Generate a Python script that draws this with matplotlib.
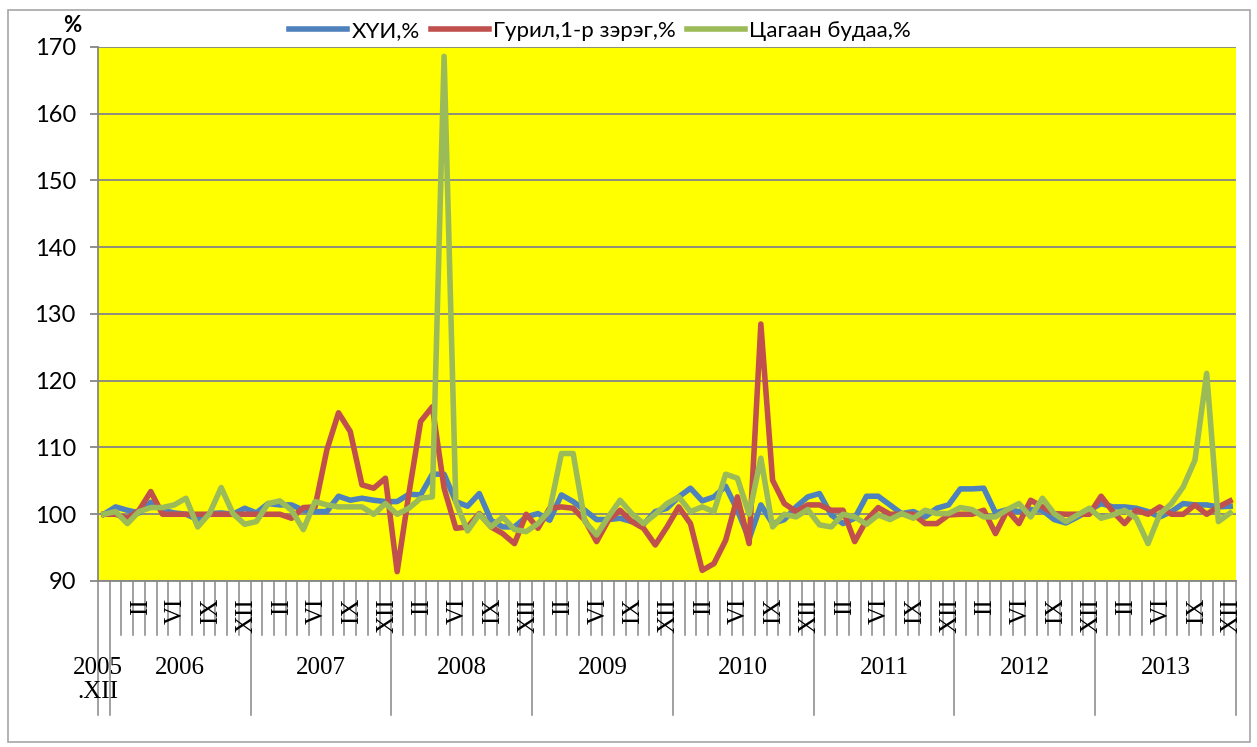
import matplotlib
matplotlib.use("Agg")
import matplotlib.pyplot as plt
import matplotlib.transforms as mtransforms
from matplotlib.patches import Rectangle
import numpy as np

# Colors (office palette)
cpi_blue = "#4F81BD"
flour_red = "#C0504D"
rice_green = "#9BBB59"
plot_yellow = "#FFFF00"
grid_gray = "#868686"

# Monthly index, previous month = 100, 2005.XII .. 2013.XII
cpi = [100.0, 101.1, 100.6, 100.2, 101.8, 100.6, 100.2, 100.0, 99.2, 100.1,
       100.2, 100.0, 100.9, 100.2, 101.6, 101.4, 101.4, 100.6, 100.4, 100.4,
       102.7, 102.1, 102.4, 102.1, 101.9, 101.9, 103.0, 102.9, 106.0, 106.0,
       101.9, 101.2, 103.1, 99.1, 98.1, 98.1, 99.6, 100.1, 99.1, 102.9,
       101.9, 100.6, 99.2, 99.2, 99.4, 98.9, 98.5, 100.4, 100.9, 102.6,
       103.9, 102.0, 102.6, 104.2, 100.6, 96.3, 101.4, 98.6, 99.2, 101.1,
       102.6, 103.1, 99.9, 98.6, 99.4, 102.7, 102.7, 101.4, 100.1, 100.4,
       99.6, 100.9, 101.4, 103.8, 103.8, 103.9, 100.2, 100.7, 100.4, 100.7,
       100.6, 99.2, 98.7, 99.6, 100.6, 101.6, 101.1, 101.1, 100.9, 100.4,
       99.6, 100.4, 101.6, 101.4, 101.4, 101.1, 101.2]
flour = [100.0, 100.0, 99.4, 100.6, 103.4, 100.0, 100.0, 100.0, 100.0, 100.0,
         100.0, 100.0, 100.0, 100.0, 100.0, 100.0, 99.4, 101.0, 101.1, 109.6,
         115.2, 112.4, 104.4, 103.9, 105.4, 91.4, 103.1, 113.9, 116.1, 103.9,
         97.9, 98.1, 100.1, 98.1, 97.1, 95.6, 100.0, 97.9, 100.9, 101.1,
         100.9, 99.1, 95.9, 99.1, 100.6, 98.9, 97.9, 95.4, 98.1, 101.1,
         98.6, 91.6, 92.6, 96.1, 102.6, 95.6, 128.5, 105.1, 101.6, 100.4,
         101.4, 101.4, 100.6, 100.6, 95.9, 99.1, 101.0, 100.0, 100.0, 100.0,
         98.6, 98.6, 99.9, 100.0, 100.0, 100.6, 97.1, 100.6, 98.6, 102.1,
         101.1, 100.1, 100.0, 100.0, 100.0, 102.7, 100.4, 98.6, 100.6, 100.0,
         101.1, 100.0, 100.0, 101.4, 100.0, 101.1, 102.0]
rice = [100.0, 100.4, 98.6, 100.4, 101.0, 101.0, 101.4, 102.4, 98.1, 100.1,
        104.0, 100.1, 98.5, 98.9, 101.6, 102.0, 100.6, 97.7, 101.9, 101.4,
        101.1, 101.1, 101.1, 100.0, 101.6, 100.0, 100.9, 102.4, 102.6, 168.6,
        101.8, 97.5, 100.0, 98.1, 99.6, 97.7, 97.4, 98.6, 100.6, 109.1,
        109.1, 98.9, 96.9, 99.6, 102.1, 100.1, 98.6, 100.0, 101.6, 102.6,
        100.4, 101.1, 100.4, 106.0, 105.4, 100.0, 108.4, 98.1, 100.0, 99.6,
        100.7, 98.4, 98.1, 100.0, 99.6, 98.5, 99.9, 99.2, 100.1, 99.4,
        100.6, 100.1, 100.1, 101.0, 100.7, 99.6, 99.6, 100.7, 101.6, 99.6,
        102.4, 100.1, 98.9, 99.9, 100.9, 99.4, 99.9, 100.6, 99.4, 95.6,
        100.0, 101.6, 104.1, 108.1, 121.1, 98.9, 100.2]

series_names = ["ХҮИ,%", "Гурил,1-р зэрэг,%", "Цагаан будаа,%"]
year_labels = ["2005\n.XII", "2006", "2007", "2008", "2009", "2010",
               "2011", "2012", "2013"]
month_labels = ["II", "VI", "IX", "XII"]
month_label_months = [3, 6, 9, 12]  # month inside each year that carries a label

sans = ["Lato", "DejaVu Sans"]

W, H = 1257, 747
fig = plt.figure(figsize=(W / 100, H / 100), dpi=100)
ax = fig.add_axes([98 / W, 1 - 581 / H, (1236 - 98) / W, (581 - 47) / H])
ax.set_facecolor(plot_yellow)

x = np.arange(len(cpi))
lines = []
for vals, col in [(cpi, cpi_blue), (flour, flour_red), (rice, rice_green)]:
    (ln,) = ax.plot(x, vals, color=col, lw=4, solid_joinstyle="round")
    lines.append(ln)

ax.set_xlim(-0.5, len(cpi) - 0.5)
ax.set_ylim(90, 170)
ax.set_yticks(range(90, 171, 10))
ax.grid(axis="y", color=grid_gray, lw=1.3)
ax.set_axisbelow(True)
for side in ["top", "right"]:
    ax.spines[side].set_visible(False)
for side in ["left", "bottom"]:
    ax.spines[side].set_color(grid_gray)
    ax.spines[side].set_linewidth(1.3)
ax.set_xticks([])
ax.tick_params(axis="y", length=6, width=1.3, color=grid_gray, pad=10,
               labelsize=17)
for lbl in ax.get_yticklabels():
    lbl.set_family(sans)

# Category axis: short lines per month, long lines at year boundaries
trans = mtransforms.blended_transform_factory(ax.transData, ax.transAxes)
plot_h = 581 - 47
short_end = -(635 - 581) / plot_h
long_end = -(715 - 581) / plot_h
year_bounds = [-0.5] + [0.5 + 12 * k for k in range(len(year_labels))]
for b in np.arange(len(cpi) + 1) - 0.5:
    y_end = long_end if b in year_bounds else short_end
    ax.plot([b, b], [0, y_end], transform=trans, clip_on=False,
            color=grid_gray, lw=1.1)

# Month labels (rotated)
for k in range(len(year_labels) - 1):
    for lab, m in zip(month_labels, month_label_months):
        ax.text(12 * k + m + 0.15, -(598 - 581) / plot_h, lab, rotation=90,
                ha="center", va="top", family="Liberation Serif",
                fontsize=18, transform=trans)

# Year labels
for k, lab in enumerate(year_labels):
    if k == 0:
        xc = -0.5
    else:
        xc = (year_bounds[k] + year_bounds[k + 1]) / 2
    ax.text(xc, -(657 - 581) / plot_h, lab, ha="center", va="top",
            family="Liberation Serif", fontsize=18, linespacing=1.1,
            transform=trans)

# axis unit, sits just above the top tick label
fig.text(72 / W, 1 - 26 / H, "%", fontsize=16, fontweight="bold",
         family=sans, ha="center", va="center")

leg = ax.legend(lines, series_names, loc="center",
                bbox_to_anchor=(600 / W, 1 - 31 / H),
                bbox_transform=fig.transFigure, ncol=3, frameon=False,
                handlelength=2.6, handletextpad=0.2, columnspacing=0.5,
                prop={"family": sans, "size": 16})

# Chart area border
fig.patches.append(Rectangle((8 / W, 5 / H), (1250 - 8) / W, (737 - 5) / H,
                             transform=fig.transFigure, fill=False,
                             edgecolor="#a6a6a6", lw=1.2))

fig.savefig("out.png", dpi=100)
